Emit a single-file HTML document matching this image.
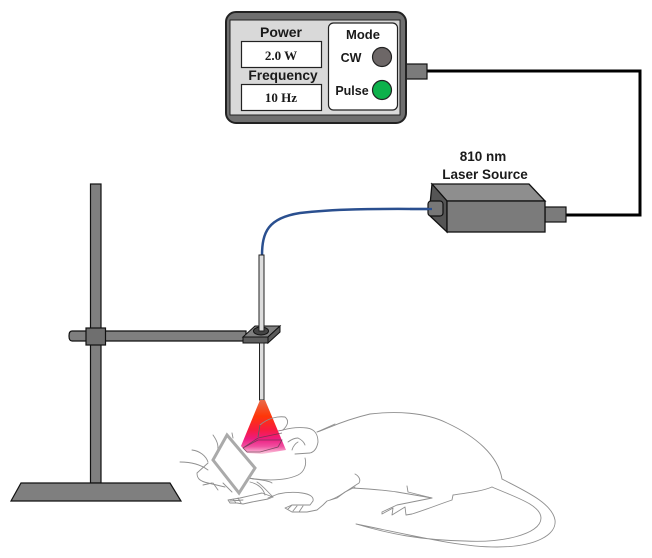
<!DOCTYPE html>
<html><head><meta charset="utf-8"><style>html,body{margin:0;padding:0;background:#fff}svg{display:block}text{font-family:"Liberation Sans",Arial,sans-serif;font-weight:bold;fill:#1a1a1a}</style></head>
<body>
<svg width="652" height="558" viewBox="0 0 652 558" xmlns="http://www.w3.org/2000/svg">
<defs>
<linearGradient id="cone" x1="0" y1="400" x2="0" y2="454" gradientUnits="userSpaceOnUse">
<stop offset="0" stop-color="#e86a48"/><stop offset="0.3" stop-color="#fe3608"/><stop offset="0.55" stop-color="#f81c40"/><stop offset="0.72" stop-color="#ee1c80"/><stop offset="0.86" stop-color="#f050a0"/><stop offset="1" stop-color="#fdd0e2"/>
</linearGradient>
</defs>

<!-- controller -->
<path d="M427 71H640V215H566" fill="none" stroke="#000" stroke-width="3"/>
<rect x="406" y="64" width="21" height="15" fill="#7b7b7b" stroke="#111" stroke-width="1.2"/>
<rect x="226" y="12" width="180" height="111" rx="10" fill="#6f6f6f" stroke="#222" stroke-width="2"/>
<rect x="230" y="20" width="170" height="95" fill="#d9d9d9" stroke="#222" stroke-width="1"/>
<rect x="241.5" y="41.5" width="80" height="26" fill="#fff" stroke="#222" stroke-width="1.2"/>
<rect x="241.5" y="84.5" width="80" height="26" fill="#fff" stroke="#222" stroke-width="1.2"/>
<rect x="328.5" y="23" width="69" height="87" rx="5" fill="#fff" stroke="#222" stroke-width="1.2"/>
<circle cx="382" cy="57" r="9.5" fill="#6d6767" stroke="#222" stroke-width="1.2"/>
<circle cx="382" cy="90" r="9.5" fill="#0db14b" stroke="#222" stroke-width="1.2"/>
<text x="281" y="37" text-anchor="middle" font-size="14">Power</text>
<text x="283" y="80" text-anchor="middle" font-size="13.7">Frequency</text>
<text x="281" y="60" text-anchor="middle" font-size="13" style="font-family:'Liberation Serif',serif">2.0 W</text>
<text x="281" y="102" text-anchor="middle" font-size="13" style="font-family:'Liberation Serif',serif">10 Hz</text>
<text x="363" y="39" text-anchor="middle" font-size="13">Mode</text>
<text x="351" y="62" text-anchor="middle" font-size="12.5">CW</text>
<text x="352" y="95" text-anchor="middle" font-size="12.5">Pulse</text>

<!-- laser -->
<text x="483" y="161" text-anchor="middle" font-size="13.5">810 nm</text>
<text x="485" y="179" text-anchor="middle" font-size="13.5">Laser Source</text>
<path d="M262 256C262 232 268 218 300 213C340 208 390 209 430 209" fill="none" stroke="#2a4f8f" stroke-width="2.5"/>
<rect x="545" y="207" width="21" height="15" fill="#7b7b7b" stroke="#111" stroke-width="1.2"/>
<path d="M432 184H529L545 201H447Z" fill="#8e8e8e" stroke="#111" stroke-width="1.3"/>
<path d="M432 184L447 201V232L429 215Z" fill="#555" stroke="#111" stroke-width="1.3"/>
<rect x="447" y="201" width="98" height="31" fill="#7b7b7b" stroke="#111" stroke-width="1.3"/>
<rect x="428" y="201" width="15" height="15" rx="3" fill="#777" stroke="#111" stroke-width="1.2"/>
<path d="M410 209H432" stroke="#2a4f8f" stroke-width="2.2"/>

<!-- stand -->
<rect x="90.5" y="184" width="10.5" height="299" fill="#7f7f7f" stroke="#111" stroke-width="1.2"/>
<path d="M21 483H170L181 501H11Z" fill="#7f7f7f" stroke="#111" stroke-width="1.2"/>
<path d="M72 331H246V341H72Q69 341 69 336Q69 331 72 331Z" fill="#7f7f7f" stroke="#111" stroke-width="1.2"/>
<rect x="86" y="328" width="19.5" height="17" fill="#6f6f6f" stroke="#111" stroke-width="1.2"/>

<!-- fiber and clamp -->
<path d="M243 337L255 326H280L268 337Z" fill="#808080" stroke="#111" stroke-width="1"/>
<path d="M268 337L280 326V332L268 343Z" fill="#5a5a5a" stroke="#111" stroke-width="1"/>
<rect x="243" y="337" width="25" height="6" fill="#5f5f5f" stroke="#111" stroke-width="1"/>
<ellipse cx="261" cy="331" rx="7.5" ry="4" fill="#444" stroke="#111"/>
<rect x="259" y="255" width="5" height="76" fill="#ddd" stroke="#222" stroke-width="1"/>
<rect x="259.5" y="343" width="4.5" height="57" fill="#ddd" stroke="#222" stroke-width="1"/>

<!-- beam -->
<path d="M260 400H265L286 450L262 454L247 453L241 446Z" fill="url(#cone)"/>

<!-- rat -->
<g fill="none" stroke="#8f8f8f" stroke-width="0.9" stroke-linecap="round" stroke-linejoin="round">
<!-- back -->
<path d="M317 432C325 430 340 421 370 414C395 411 425 412 447 423C475 436 498 455 502 479"/>
<!-- tail -->
<path d="M502 479C525 491 552 503 555 520C557 535 535 547 497 547C460 547 420 537 356 524C390 534 420 540 465 541C500 543 541 535 541 518C541 505 515 497 492 487"/>
<!-- belly and hind foot -->
<path d="M492 487C480 492 465 493 453 495L452 500C440 504 425 510 412 514L406 515L405 507L392 515L393 508L382 514V512L397 505L432 498L408 492L407 486"/>
<path d="M352 488C370 489 385 490 397 492L432 498"/>
<path d="M330 500C337 498 345 492 359 483C361 480 359 476 355 474"/>
<!-- head -->
<path d="M283 430C290 428 298 427 307 428C315 429 318 435 318 442C317 448 314 452 310 453L295 454"/>
<path d="M335 424L317 432"/>
<path d="M283 430C287 426 290 421 285 417C278 416 268 418 260 425L258 437"/>
<path d="M288 442C292 439 296 438 298 438C302 440 304 442 305 445M292 450C293 446 296 443 298 442"/>
<path d="M305 458C307 465 304 472 298 475C285 481 268 481 248 478"/>
<path d="M208 463L197 473C197 478 199 481 208 483L225 487"/>
<path d="M180 462C190 462 200 464 208 470M192 450C200 451 206 456 208 462M213 435C218 442 219 447 217 453M232 433L233 438M203 485L212 483M213 483L218 490M223 483L232 492"/>
<path d="M248 478C258 480 268 480 272 483M250 482C258 484 263 488 265 495M257 482C262 485 266 490 273 497"/>
<!-- front paw -->
<path d="M228 500L240 498L262 493L273 497L268 499L252 502L243 504L237 503L230 503L228 500M233 499L236 503M238 498L241 503M230 501L243 500"/>
<!-- mid leg and rear paw -->
<path d="M268 498L278 494C287 492 295 492 302 493C310 494 314 497 313 501L310 505L292 505L285 508L292 512L307 512L317 510L323 505L327 501L337 498L345 492L355 487"/>
<path d="M292 505L288 509M297 506L293 511M303 506L299 512"/>
</g>
<path d="M243 448L258 438L282 433M247 452L260 452L278 447L282 440L258 440L243 448L247 452M258 437L260 425M278 431L283 430" fill="none" stroke="#5a3a4a" stroke-width="0.8" opacity=".75"/>
<path d="M227 435L255 468L239 493L213 460Z" fill="#fff" stroke="#aaa" stroke-width="3"/>
</svg>
</body></html>
